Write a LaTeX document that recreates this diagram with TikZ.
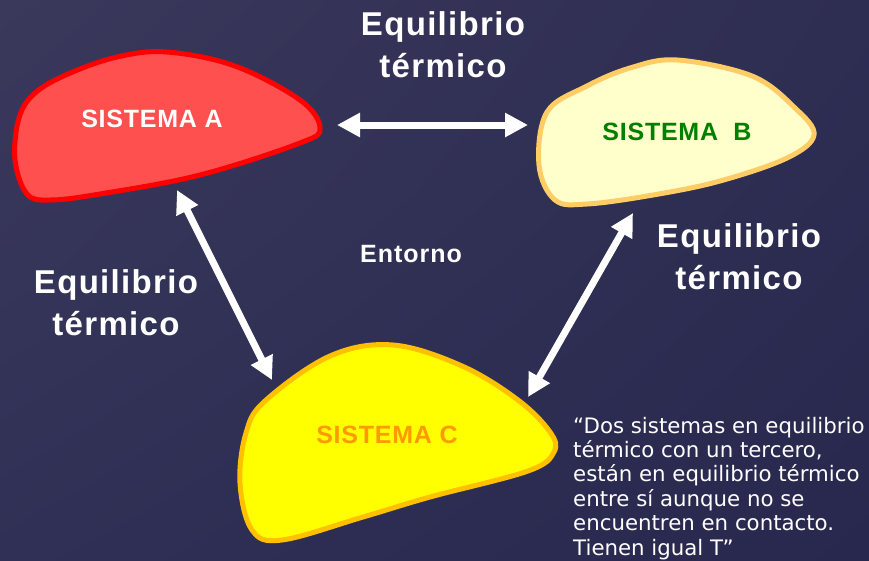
\documentclass[tikz,border=0pt]{standalone}
\usepackage{fontspec}
\setmainfont{Liberation Sans}
\newfontfamily\eqfont[LetterSpace=4]{Liberation Sans}
\newfontfamily\sisfont[LetterSpace=3]{Liberation Sans}
\newfontfamily\quotefont{DejaVu Sans}
\usetikzlibrary{arrows.meta,shadings}
\definecolor{bgul}{RGB}{58,57,92}
\definecolor{bgur}{RGB}{46,45,82}
\definecolor{bgll}{RGB}{48,48,86}
\definecolor{bglr}{RGB}{40,40,78}
\definecolor{redfill}{RGB}{255,80,80}
\definecolor{redline}{RGB}{255,0,0}
\definecolor{creamfill}{RGB}{255,255,204}
\definecolor{creamline}{RGB}{255,204,102}
\definecolor{yellowfill}{RGB}{255,255,0}
\definecolor{yellowline}{RGB}{255,192,0}
\definecolor{greenB}{RGB}{0,128,0}
\definecolor{orangeC}{RGB}{255,153,0}
\tikzset{
  blob/.style={line width=5pt, line join=round},
  eqlabel/.style={text=white, font=\eqfont\bfseries\fontsize{33}{42}\selectfont, align=center, inner sep=0pt, anchor=base},
  sislabel/.style={font=\sisfont\bfseries\fontsize{25}{30}\selectfont, inner sep=0pt, anchor=base},
  link/.style={<->, >={Triangle[length=23pt,width=23pt]}, line width=7pt, draw=white},
}
\begin{document}
\begin{tikzpicture}[x=1pt,y=-1pt]
  \shade[upper left=bgul, upper right=bgur, lower left=bgll, lower right=bglr] (0,0) rectangle (869,560);
  \useasboundingbox (0,0) rectangle (869,560);

  \filldraw[blob, fill=redfill, draw=redline] plot[smooth cycle, tension=0.6] coordinates
    {(167,52) (235,66) (300,100) (320,128) (300,143) (200,175) (100,194) (50,200) (27,194) (15,160) (19,118) (35,93) (68,74) (117,57)};
  \filldraw[blob, fill=creamfill, draw=creamline] plot[smooth cycle, tension=0.6] coordinates
    {(677,60) (752,76) (795,108) (814,135) (787,158) (720,181) (653,195) (587,204) (555,200) (539,165) (547,112) (587,86) (630,68)};
  \filldraw[blob, fill=yellowfill, draw=yellowline] plot[smooth cycle, tension=0.6] coordinates
    {(393,345) (462,366) (518,400) (550,432) (554,452) (528,471) (430,497) (363,517) (282,540) (252,530) (240,483) (246,433) (265,401) (330,356)};

  \node[sislabel, text=white] (A) at (152,127) {SISTEMA A};
  \node[sislabel, text=greenB] (B) at (677,140) {SISTEMA\ \ B};
  \node[sislabel, text=orangeC] (C) at (387,443) {SISTEMA C};

  \coordinate (Ar) at (337,125);
  \coordinate (Bl) at (528,125);
  \coordinate (Ab) at (177,190);
  \coordinate (Ct) at (272,380);
  \coordinate (Bb) at (633,213);
  \coordinate (Cr) at (528,397);
  \begin{scope}[link]
    \draw (Ar) -- (Bl);
    \draw (Ab) -- (Ct);
    \draw (Bb) -- (Cr);
  \end{scope}

  \node[eqlabel] (eqAB) at (443,77) {Equilibrio\\térmico};
  \node[eqlabel] (eqAC) at (116,335) {Equilibrio\\térmico};
  \node[eqlabel] (eqBC) at (739,289) {Equilibrio\\térmico};
  \node[text=white, font=\eqfont\bfseries\fontsize{25}{30}\selectfont, inner sep=0pt, anchor=base] (env) at (411,262) {Entorno};

  \node[text=white, font=\quotefont\fontsize{21.3}{24.4}\selectfont, align=left, inner sep=0pt, anchor=base west] (law) at (573,555)
    {“Dos sistemas en equilibrio\\térmico con un tercero,\\están en equilibrio térmico\\entre sí aunque no se\\encuentren en contacto.\\Tienen igual T”};
\end{tikzpicture}
\end{document}
